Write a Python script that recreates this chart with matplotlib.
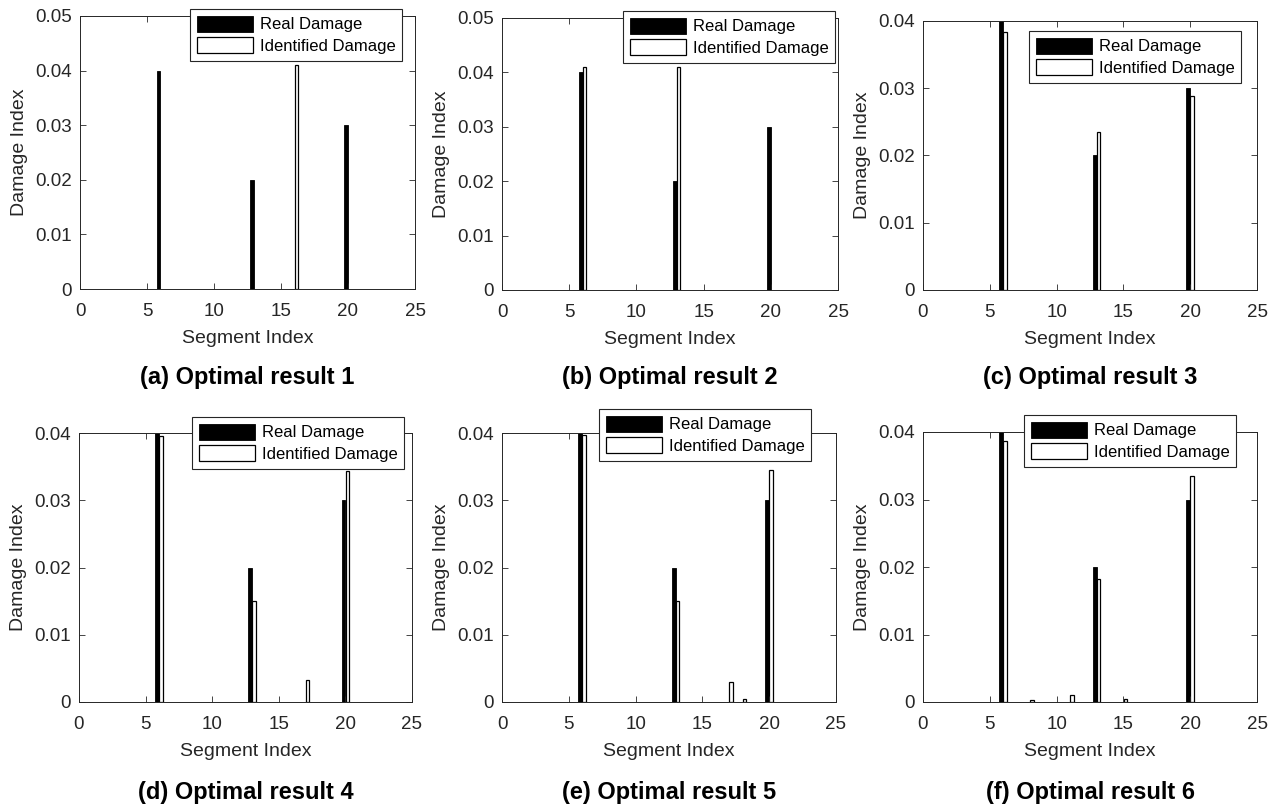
import matplotlib.pyplot as plt

plt.rcParams['font.family'] = ['Liberation Sans', 'DejaVu Sans']

W, H = 1280, 809

# real damage (same in every run)
real_seg = [6, 13, 20]
real_val = [0.04, 0.02, 0.03]

# identified damage, one list per optimal result
ident_seg_1 = [16]
ident_val_1 = [0.041]
ident_seg_2 = [6, 13]
ident_val_2 = [0.041, 0.041]
ident_seg_3 = [6, 13, 20]
ident_val_3 = [0.0383, 0.0235, 0.0289]
ident_seg_4 = [6, 13, 17, 20]
ident_val_4 = [0.0395, 0.015, 0.0033, 0.0343]
ident_seg_5 = [6, 13, 17, 18, 20]
ident_val_5 = [0.0397, 0.015, 0.003, 0.0004, 0.0345]
ident_seg_6 = [6, 8, 11, 13, 15, 20]
ident_val_6 = [0.0386, 0.0003, 0.001, 0.0182, 0.0005, 0.0335]

captions = ['(a) Optimal result 1', '(b) Optimal result 2', '(c) Optimal result 3',
            '(d) Optimal result 4', '(e) Optimal result 5', '(f) Optimal result 6']
ymax = [0.05, 0.05, 0.04, 0.04, 0.04, 0.04]

idents = [(ident_seg_1, ident_val_1), (ident_seg_2, ident_val_2), (ident_seg_3, ident_val_3),
          (ident_seg_4, ident_val_4), (ident_seg_5, ident_val_5), (ident_seg_6, ident_val_6)]

# axes boxes in pixels: x0, y0(top), x1, y1(bottom)
boxes = [(80, 16, 415, 289), (502, 18, 838, 290), (923, 21, 1257, 290),
         (79, 433, 412, 702), (502, 433, 836, 702), (923, 432, 1257, 702)]
# legend upper-left corners in pixels
leg_pos = [(190, 9), (623, 11), (1029, 31), (192, 417), (599, 409), (1024, 415)]
cap_y = [378, 378, 378, 792, 792, 792]

fig = plt.figure(figsize=(12.8, 8.09), dpi=100)
dark = '#262626'

for i in range(6):
    x0, y0, x1, y1 = boxes[i]
    ax = fig.add_axes([x0 / W, 1 - y1 / H, (x1 - x0) / W, (y1 - y0) / H])
    seg, val = idents[i]
    ax.bar([s - 0.143 for s in real_seg], real_val, width=0.27, color='black',
           edgecolor='black', linewidth=0.6, label='Real Damage')
    ax.bar([s + 0.143 for s in seg], val, width=0.26, color='white',
           edgecolor='black', linewidth=0.9, label='Identified Damage')

    ax.set_xlim(0, 25)
    ax.set_ylim(0, ymax[i])
    ax.set_xticks(range(0, 26, 5))
    yt = [k / 100 for k in range(int(round(ymax[i] * 100)) + 1)]
    ax.set_yticks(yt, ['0'] + ['%.2f' % v for v in yt[1:]])
    ax.tick_params(direction='in', top=True, right=True, length=4, width=0.6,
                   colors=dark, labelsize=13.5)
    ax.tick_params(axis='x', pad=10)
    ax.tick_params(axis='y', pad=6)
    for sp in ax.spines.values():
        sp.set_color(dark)
        sp.set_linewidth(0.7)
    ax.set_xlabel('Segment Index', fontsize=14, color=dark, labelpad=7)
    ax.set_ylabel('Damage Index', fontsize=14, color=dark, labelpad=5)

    lx, ly = leg_pos[i]
    leg = ax.legend(loc='upper left', bbox_to_anchor=(lx / W, 1 - ly / H),
                    bbox_transform=fig.transFigure, borderaxespad=0, fancybox=False,
                    edgecolor=dark, framealpha=1, fontsize=12, handlelength=3.4,
                    handleheight=1.1, labelspacing=0.3, handletextpad=0.4, borderpad=0.4)
    leg.get_frame().set_linewidth(0.8)

    fig.text((x0 + x1) / 2 / W, 1 - cap_y[i] / H, captions[i], ha='center', va='center',
             fontsize=17, fontweight='bold')

fig.savefig('out.png', dpi=100)
